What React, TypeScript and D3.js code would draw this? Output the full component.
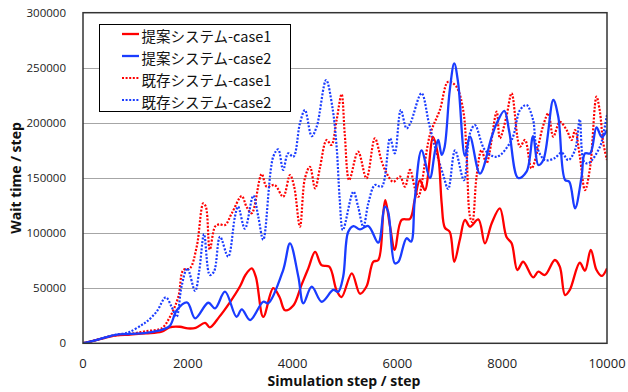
import React from "react";
import * as d3 from "d3";

const xTicks = [0, 2000, 4000, 6000, 8000, 10000];
const yTicks = [0, 50000, 100000, 150000, 200000, 250000, 300000];
const seriesNames = ["提案システム-case1", "提案システム-case2", "既存システム-case1", "既存システム-case2"];

const proposedCase1: [number, number][] = [
  [0, 0], [300, 3500], [600, 7000], [900, 8000], [1200, 9000], [1500, 10500], [1650, 14500], [1850, 15000],
  [2000, 13500], [2150, 14000], [2330, 18500], [2420, 14500], [2600, 24000], [2800, 37000], [3000, 52000],
  [3100, 62000], [3220, 68000], [3300, 60000], [3440, 24000], [3630, 50000], [3750, 42000], [3855, 30000],
  [4010, 34000], [4170, 53000], [4300, 68000], [4430, 83000], [4550, 71000], [4700, 69500], [4840, 48000],
  [4935, 42000], [5130, 63500], [5285, 45000], [5410, 51500], [5540, 74000], [5635, 75500], [5730, 118000],
  [5770, 130000], [5860, 106000], [5950, 84700], [6080, 112000], [6240, 113000], [6330, 130000], [6430, 148000],
  [6525, 139000], [6680, 187000], [6780, 169000], [6845, 127000], [6905, 105000], [7000, 101000], [7085, 74000],
  [7190, 93700], [7290, 112000], [7385, 105800], [7545, 112500], [7670, 90700], [7800, 109000], [7955, 122500],
  [8080, 96700], [8180, 90700], [8290, 66500], [8400, 74000], [8590, 59900], [8690, 65000], [8815, 62000],
  [9005, 75600], [9100, 69500], [9200, 43800], [9290, 48400], [9480, 73100], [9580, 65900], [9690, 84700],
  [9800, 66500], [9900, 61100], [10000, 68000],
];

const proposedCase2: [number, number][] = [
  [0, 0], [300, 3500], [600, 7500], [900, 8500], [1200, 9500], [1530, 12700], [1660, 16000], [1790, 30000],
  [1990, 37000], [2140, 22700], [2390, 36800], [2520, 31700], [2710, 46800], [2930, 24100], [3030, 30800],
  [3190, 21100], [3440, 37700], [3535, 36300], [3820, 66500], [3950, 90700], [4110, 60400], [4205, 36300],
  [4365, 51400], [4555, 37700], [4775, 48400], [4870, 46800], [4965, 60400], [5060, 101000], [5160, 106400],
  [5285, 103400], [5445, 106400], [5635, 91300], [5760, 124000], [5820, 120000], [5950, 72600], [6020, 74000],
  [6175, 95300], [6260, 92200], [6330, 130000], [6460, 175000], [6620, 150000], [6720, 175000], [6780, 184500],
  [6845, 171000], [6900, 178000], [7000, 230000], [7085, 254000], [7160, 236000], [7290, 170000], [7385, 187500],
  [7575, 154000], [7800, 187500], [7895, 199600], [8040, 211000], [8135, 192000], [8305, 150000], [8465, 155700],
  [8590, 188000], [8690, 161800], [8785, 166300], [8975, 220800], [9070, 205600], [9200, 148200], [9280, 146600],
  [9390, 122500], [9515, 151200], [9580, 172400], [9680, 172400], [9800, 196000], [9900, 187000], [10000, 193500],
];

const existingCase1: [number, number][] = [
  [0, 0], [300, 3500], [600, 7000], [900, 8500], [1200, 11000], [1500, 13600], [1660, 24000], [1820, 42300],
  [1915, 66500], [2040, 68000], [2170, 87600], [2295, 127000], [2345, 124000], [2420, 85000], [2520, 105800],
  [2600, 108000], [2710, 107300], [2840, 118000], [3030, 133600], [3120, 124000], [3220, 118000], [3410, 153600],
  [3505, 142100], [3660, 143600], [3820, 133000], [3950, 152700], [4030, 142100], [4140, 105800], [4235, 149700],
  [4330, 160200], [4430, 140600], [4520, 158800], [4650, 184500], [4740, 180000], [4840, 202600], [4935, 226000],
  [4995, 190000], [5080, 148200], [5250, 173900], [5410, 149700], [5570, 186000], [5700, 165000], [5795, 154300],
  [5920, 146600], [6050, 151200], [6145, 142100], [6240, 157300], [6335, 140600], [6400, 133000], [6620, 189000],
  [6810, 211700], [6970, 237400], [7125, 232900], [7255, 211700], [7320, 172000], [7385, 115000], [7430, 110000],
  [7510, 151200], [7605, 175400], [7700, 163300], [7895, 210200], [7955, 186000], [8080, 205600], [8180, 226900],
  [8340, 178400], [8435, 184500], [8560, 158800], [8785, 198000], [8880, 208700], [8975, 187500], [9100, 201000],
  [9230, 193500], [9325, 184500], [9390, 193500], [9480, 170000], [9580, 139000], [9675, 158800], [9800, 223800],
  [9860, 211700], [9930, 181500], [10000, 166300],
];

const existingCase2: [number, number][] = [
  [0, 0], [300, 3500], [600, 7500], [800, 9000], [900, 10500], [1120, 16600], [1215, 19600], [1405, 28700],
  [1580, 41700], [1690, 33200], [1785, 24100], [1880, 51400], [1990, 68000], [2140, 47500], [2220, 66500],
  [2310, 99000], [2420, 62000], [2500, 65000], [2615, 96700], [2770, 78600], [2900, 115000], [2960, 124000],
  [3090, 104000], [3250, 134000], [3345, 114900], [3440, 94000], [3630, 169300], [3725, 176000], [3820, 157300],
  [3915, 172400], [4015, 169300], [4140, 199600], [4235, 211700], [4365, 188000], [4460, 196600], [4640, 238900],
  [4760, 214000], [4840, 178400], [4900, 130000], [4960, 102800], [5160, 137600], [5250, 124000], [5350, 105800],
  [5445, 127000], [5570, 143600], [5700, 142100], [5860, 186000], [5950, 172400], [6065, 211700], [6175, 195000],
  [6250, 200000], [6460, 226900], [6600, 200000], [6715, 178400], [6875, 152700], [6970, 140000], [7100, 175000],
  [7270, 148000], [7385, 190600], [7480, 198000], [7670, 175400], [7895, 169300], [8180, 184500], [8340, 211700],
  [8465, 216200], [8590, 202600], [8650, 180000], [8815, 166300], [9000, 168000], [9135, 173000], [9260, 166300],
  [9390, 175400], [9480, 203000], [9560, 165000], [9645, 163300], [9865, 178400], [9930, 190000], [10000, 207200],
];

const RED = "#ff0000";
const BLUE = "#1a3cff";

export default function App() {
  const W = 628, H = 392;
  const left = 83, right = 607, top = 12.7, bottom = 343.3;
  const x = d3.scaleLinear().domain([0, 10000]).range([left, right]);
  const y = d3.scaleLinear().domain([0, 300000]).range([bottom, top]);
  const line = d3
    .line<[number, number]>()
    .x((d) => x(d[0]))
    .y((d) => y(d[1]))
    .curve(d3.curveCatmullRom.alpha(0.5));

  const series = [
    { name: seriesNames[0], data: proposedCase1, color: RED, dotted: false },
    { name: seriesNames[1], data: proposedCase2, color: BLUE, dotted: false },
    { name: seriesNames[2], data: existingCase1, color: RED, dotted: true },
    { name: seriesNames[3], data: existingCase2, color: BLUE, dotted: true },
  ];
  const drawOrder = [2, 3, 0, 1];

  return (
    <svg width={W} height={H} style={{ position: "absolute", left: 0, top: 0, background: "#fff" }}>
      <rect x={0} y={0} width={W} height={H} fill="#fff" />
      {yTicks.slice(1, -1).map((t) => (
        <line key={t} x1={left} x2={right} y1={Math.round(y(t)) + 0.5} y2={Math.round(y(t)) + 0.5} stroke="#a6a6a6" strokeWidth={1} />
      ))}
      <defs>
        <clipPath id="plot">
          <rect x={left} y={top} width={right - left} height={bottom - top} />
        </clipPath>
      </defs>
      <g clipPath="url(#plot)">
        {drawOrder.map((i) => {
          const s = series[i];
          return (
            <path
              key={s.name}
              d={line(s.data) || ""}
              fill="none"
              stroke={s.color}
              strokeWidth={s.dotted ? 2.2 : 2.3}
              strokeDasharray={s.dotted ? "2 1.6" : undefined}
              strokeLinejoin="round"
            />
          );
        })}
      </g>
      <rect x={left} y={top} width={right - left} height={bottom - top} fill="none" stroke="#333" strokeWidth={1.5} />
      {yTicks.map((t) => (
        <text key={t} x={66} y={y(t)} dy="0.36em" textAnchor="end" fontFamily="'Open Sans', sans-serif" fontSize={11.5} fill="#222">
          {t}
        </text>
      ))}
      {xTicks.map((t) => (
        <text key={t} x={x(t)} y={368} textAnchor="middle" fontFamily="'Open Sans', sans-serif" fontSize={13} fill="#222">
          {t}
        </text>
      ))}
      <text x={344} y={386} textAnchor="middle" fontFamily="'Open Sans', sans-serif" fontWeight="bold" fontSize={14} fill="#111">
        Simulation step / step
      </text>
      <text
        transform="translate(21,178) rotate(-90)"
        textAnchor="middle"
        fontFamily="'Open Sans', sans-serif"
        fontWeight="bold"
        fontSize={14}
        fill="#111"
      >
        Wait time / step
      </text>
      <rect x={99.5} y={24.5} width={191} height={87} fill="#fff" stroke="#000" strokeWidth={1} />
      {series.map((s, i) => {
        const cy = 35 + i * 22;
        return (
          <g key={s.name}>
            <line x1={122} x2={139} y1={cy - 1} y2={cy - 1} stroke={s.color} strokeWidth={s.dotted ? 2.2 : 2.3} strokeDasharray={s.dotted ? "2 1.6" : undefined} />
            <text x={141.5} y={cy} dominantBaseline="central" fontFamily="'Noto Sans CJK JP', sans-serif" fontSize={14.5} fill="#111">
              {s.name}
            </text>
          </g>
        );
      })}
    </svg>
  );
}
